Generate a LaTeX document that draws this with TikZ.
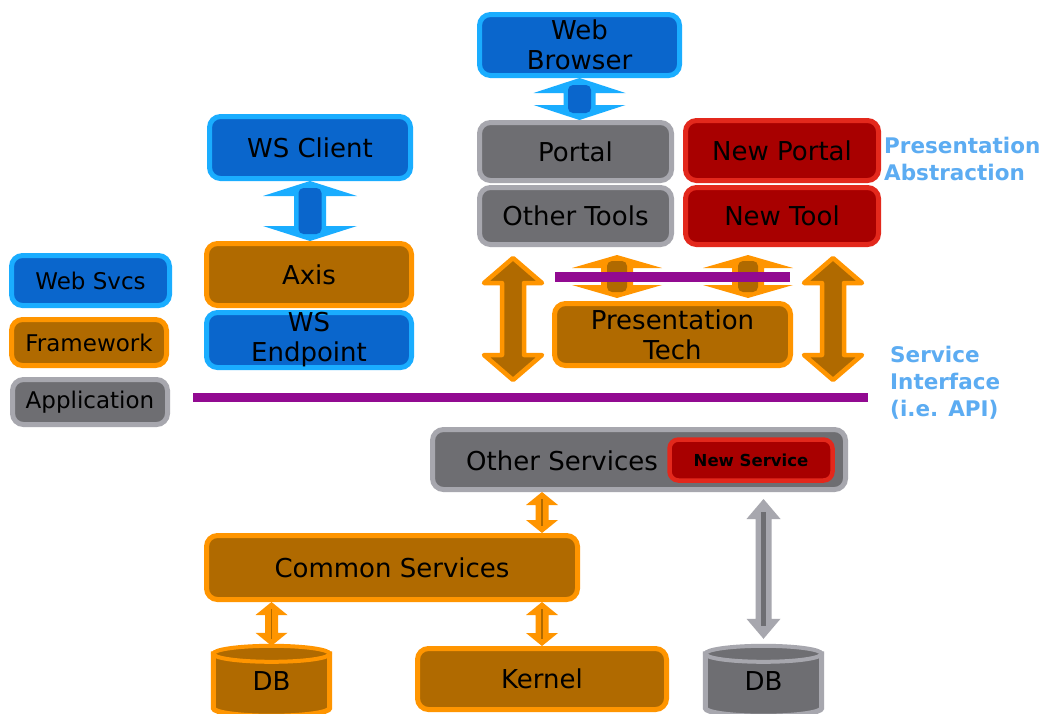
\documentclass[tikz,border=0pt]{standalone}
\usepackage{fontspec}
\setmainfont{DejaVu Sans}
\usetikzlibrary{calc,backgrounds}
\definecolor{bluefill}{HTML}{0A66CC}
\definecolor{blueline}{HTML}{1AADFF}
\definecolor{orfill}{HTML}{B06A00}
\definecolor{orline}{HTML}{FF9500}
\definecolor{grfill}{HTML}{6E6E72}
\definecolor{grline}{HTML}{A7A7AE}
\definecolor{redfill}{HTML}{A80000}
\definecolor{redline}{HTML}{E3281C}
\definecolor{purp}{HTML}{920A91}
\definecolor{lbl}{HTML}{5CACF2}
% vertical double block arrow: style, top, bottom, head half width, head length, shaft half width, gap
\newcommand{\dblarrow}[7]{%
  \path[#1] let \p1=($(#2)+(0,#7)$), \p2=($(#3)-(0,#7)$) in
    (\x1,\y1) -- ({\x1+#4pt},{\y1-#5pt}) -- ({\x1+#6pt},{\y1-#5pt})
    -- ({\x1+#6pt},{\y2+#5pt}) -- ({\x1+#4pt},{\y2+#5pt}) -- (\x1,\y2)
    -- ({\x1-#4pt},{\y2+#5pt}) -- ({\x1-#6pt},{\y2+#5pt})
    -- ({\x1-#6pt},{\y1-#5pt}) -- ({\x1-#4pt},{\y1-#5pt}) -- cycle;}
% inner shaft: style, top, bottom, inset, half width
\newcommand{\arrshaft}[5]{%
  \path[#1] let \p1=($(#2)+(0,#4)$), \p2=($(#3)-(0,#4)$) in
    ({\x1-#5pt},\y1) rectangle ({\x1+#5pt},\y2);}
\begin{document}
\begin{tikzpicture}[x=1pt,y=-1pt,
  box/.style={rectangle, rounded corners=11pt, line width=5pt, inner sep=0pt,
    align=center, font=\fontsize{26}{30}\selectfont, text=black},
  bluebox/.style={box, fill=bluefill, draw=blueline},
  orbox/.style={box, fill=orfill, draw=orline},
  graybox/.style={box, fill=grfill, draw=grline},
  redbox/.style={box, fill=redfill, draw=redline},
  legend/.style={font=\fontsize{23}{27}\selectfont},
  dbtext/.style={rectangle, inner sep=0pt, minimum width=116, minimum height=70,
    font=\fontsize{26}{30}\selectfont, text=black},
  lbltext/.style={inner sep=0pt, align=left, text=lbl,
    font=\bfseries\fontsize{21.5}{27}\selectfont},
  apiline/.style={draw=purp, line width=9pt},
]
\useasboundingbox (0,0) rectangle (1043,713);

% ---------- nodes ----------
\node[bluebox, minimum width=200, minimum height=61] (browser) at (579.5,45) {Web\\Browser};
\node[bluebox, minimum width=201, minimum height=62] (wsclient) at (310,147.5) {WS Client};
\node[graybox, minimum width=192, minimum height=58] (portal) at (575.5,151.5) {Portal};
\node[graybox, minimum width=192, minimum height=57] (othertools) at (575.5,216) {Other Tools};
\node[redbox, minimum width=193, minimum height=60] (newportal) at (782,150.5) {New Portal};
\node[redbox, minimum width=193, minimum height=57] (newtool) at (782,216) {New Tool};
\node[orbox, minimum width=205, minimum height=62] (axis) at (309,274.5) {Axis};
\node[bluebox, minimum width=205, minimum height=55] (wsendpoint) at (309,340) {WS\\Endpoint};
\node[bluebox, legend, minimum width=158, minimum height=50] (lgweb) at (90.5,280.5) {Web Svcs};
\node[orbox, legend, minimum width=155, minimum height=46] (lgfw) at (89,342.5) {Framework};
\node[graybox, legend, minimum width=155, minimum height=45] (lgapp) at (90,402) {Application};
\node[orbox, minimum width=236, minimum height=62] (prestech) at (672.5,334.5) {Presentation\\Tech};
\node[graybox, minimum width=413, minimum height=60] (oservices) at (639,459.5) {};
\node[anchor=west, inner sep=0pt, font=\fontsize{26}{30}\selectfont] (oservicestext) at (466,461) {Other Services};
\node[redbox, line width=4.5pt, rounded corners=9pt, font=\bfseries\fontsize{16.5}{20}\selectfont,
  minimum width=163, minimum height=41] (newservice) at (751,460) {New Service};
\node[orbox, minimum width=371, minimum height=64] (common) at (392,567.5) {Common Services};
\node[orbox, minimum width=249, minimum height=61] (kernel) at (542,679) {Kernel};
\node[dbtext] (db1) at (271.5,681) {DB};
\node[dbtext] (db2) at (763.5,681) {DB};

\node[lbltext, anchor=north west] (presabs) at (884,137) {Presentation\\Abstraction};
\node[lbltext, anchor=north west] (svcint) at (890,346) {Service\\Interface\\(i.e. API)};

% ---------- background: white, cylinders, connectors ----------
\begin{scope}[on background layer]
  \fill[white] (0,0) rectangle (1043,713);
  \foreach \nm/\fc/\lc in {db1/orfill/orline, db2/grfill/grline} {
    \path[fill=\fc, draw=\lc, line width=5pt] let \p1=(\nm.north west), \p2=(\nm.south east) in
      (\x1,{\y1-8pt}) -- (\x1,{\y2+8pt})
      arc[start angle=180, end angle=360, x radius={(\x2-\x1)/2}, y radius=8pt]
      -- (\x2,{\y1-8pt}) -- cycle;
    \path[fill=\fc, draw=\lc, line width=4pt] let \p1=(\nm.north), \p2=(\nm.north west) in
      (\x1,{\y1-8pt}) ellipse [x radius={\x1-\x2}, y radius=8pt];
  }

  % blue connectors
  \dblarrow{fill=blueline}{browser.south}{browser.south |- portal.north}{46}{15}{16}{0}
  \arrshaft{fill=bluefill, rounded corners=5pt}{browser.south}{browser.south |- portal.north}{7}{11.5}
  \dblarrow{fill=blueline}{wsclient.south}{wsclient.south |- axis.north}{47}{15}{16}{0}
  \arrshaft{fill=bluefill, rounded corners=5pt}{wsclient.south}{wsclient.south |- axis.north}{7}{11.5}

  % small orange connectors tools -> presentation tech
  \coordinate (sa1t) at (617,255); \coordinate (sa1b) at (617,298);
  \coordinate (sa2t) at (748,255); \coordinate (sa2b) at (748,298);
  \dblarrow{fill=orline}{sa1t}{sa1b}{45}{13}{16}{0}
  \arrshaft{fill=orfill, rounded corners=5pt}{sa1t}{sa1b}{6}{10}
  \dblarrow{fill=orline}{sa2t}{sa2b}{45}{13}{16}{0}
  \arrshaft{fill=orfill, rounded corners=5pt}{sa2t}{sa2b}{6}{10}

  % big orange connectors to service interface
  \coordinate (bl1t) at (513,258); \coordinate (bl1b) at (513,380);
  \coordinate (bl2t) at (833,258); \coordinate (bl2b) at (833,380);
  \dblarrow{fill=orfill, draw=orline, line width=4.5pt, line join=round}{bl1t}{bl1b}{29}{25}{11}{0}
  \dblarrow{fill=orfill, draw=orline, line width=4.5pt, line join=round}{bl2t}{bl2b}{29}{25}{11}{0}

  % purple interface lines
  \coordinate (ptL) at (555,277); \coordinate (ptR) at (790,277);
  \draw[apiline, line width=10pt] (ptL) -- (ptR);
  \coordinate (apiL) at (193,397); \coordinate (apiR) at (868,397);
  \draw[apiline] (apiL) -- (apiR);

  % thin orange connectors
  \dblarrow{fill=orline}{oservices.south -| kernel.north}{common.north -| kernel.north}{16}{13}{6.5}{0}
  \arrshaft{fill=orfill}{oservices.south -| kernel.north}{common.north -| kernel.north}{7}{0.7}
  \dblarrow{fill=orline}{common.south -| kernel.north}{kernel.north}{16}{13}{6.5}{0}
  \arrshaft{fill=orfill}{common.south -| kernel.north}{kernel.north}{7}{0.7}
  \dblarrow{fill=orline}{common.south -| db1.north}{db1.north}{16}{13}{6.5}{0}
  \arrshaft{fill=orfill}{common.south -| db1.north}{db1.north}{7}{0.7}

  % gray connector
  \dblarrow{fill=grline}{oservices.south -| db2.north}{db2.north}{17}{20}{8}{7}
  \arrshaft{fill=grfill}{oservices.south -| db2.north}{db2.north}{20}{2.5}
\end{scope}
\end{tikzpicture}
\end{document}
